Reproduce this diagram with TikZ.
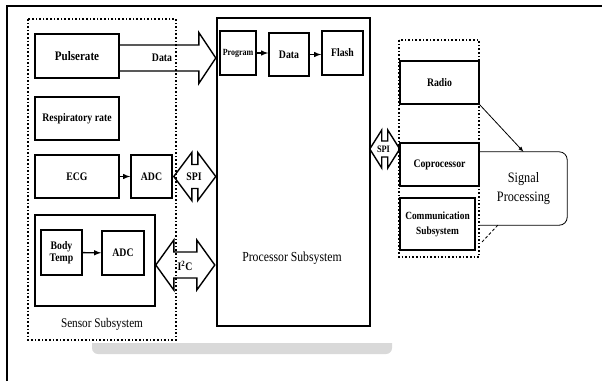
\documentclass[tikz,border=0pt]{standalone}
\usepackage{fontspec}
\setmainfont{Liberation Serif}[FakeStretch=0.85]
\usetikzlibrary{calc}
\usetikzlibrary{positioning}
\usetikzlibrary{arrows}

\begin{document}
\begin{tikzpicture}[x=1pt,y=1pt,yscale=-1,xscale=1,
    blk/.style={draw,line width=1.6pt,inner sep=1pt,align=center,font=\fontsize{11.5}{12.5}\selectfont\bfseries},
    fat/.style={draw,line width=1.4pt,line join=miter},
    thin/.style={-latex,line width=1.4pt},
    group/.style={dotted,line width=1.6pt}]
            \useasboundingbox (0,0) rectangle (602,381);

            %Shape: Shadow
            \begin{scope}
                \clip (0,343) rectangle (602,381);
                \fill[black!15,rounded corners=6pt] (92,330) rectangle (392,354);
            \end{scope}
            %Straight Lines: frame
            \draw [line width=1.5pt] (7,381) -- (7,6) -- (602,6) ;
            %Shape: Dotted groups
            \draw [group] (28,19) rectangle (176,340) ;
            \draw [group] (399,40) rectangle (479,257) ;

            %Shape: Rectangle - sensors
            \node [blk,minimum width=84pt,minimum height=44pt,font=\fontsize{13}{14}\selectfont\bfseries] (pulse) at (77,56) {Pulserate};
            \node [blk,minimum width=84pt,minimum height=43pt] (resp) at (77,118.5) {Respiratory rate};
            \node [blk,minimum width=84pt,minimum height=43pt] (ecg) at (77,176.5) {ECG};
            \node [blk,minimum width=41pt,minimum height=43pt] (adca) at (151.5,176.5) {ADC};
            \node [blk,minimum width=120pt,minimum height=91pt] (sens) at (95,260.5) {};
            \node [blk,minimum width=41pt,minimum height=45pt] (body) at (61.5,252.5) {Body\\Temp};
            \node [blk,minimum width=42pt,minimum height=44pt] (adcb) at (123,253) {ADC};
            % Text Node
            \node [font=\fontsize{13.2}{15}\selectfont] (senslbl) at (102,324) {Sensor Subsystem};

            %Shape: Rectangle - processor
            \node [blk,line width=1.5pt,minimum width=153pt,minimum height=308pt] (proc) at (293.5,172) {};
            \node [blk,minimum width=36pt,minimum height=44pt,font=\fontsize{9.4}{10}\selectfont\bfseries] (prog) at (238,53) {Program};
            \node [blk,minimum width=40pt,minimum height=43pt] (mem) at (289,54.5) {Data};
            \node [blk,minimum width=41pt,minimum height=44pt] (flash) at (342.5,53) {Flash};
            % Text Node
            \node [font=\fontsize{13.8}{16}\selectfont] (proclbl) at (292,258) {Processor Subsystem};

            %Shape: Rectangle - radio side
            \node [blk,minimum width=79pt,minimum height=43pt] (radio) at (439.5,82.5) {Radio};
            \node [blk,minimum width=79pt,minimum height=43pt] (copro) at (439.5,164.5) {Coprocessor};
            \node [blk,minimum width=75pt,minimum height=52pt,font=\fontsize{11}{15}\selectfont\bfseries] (comm) at (437.5,224) {Communication\\Subsystem};

            %Shape: Callout
            \node [minimum width=87pt,minimum height=73pt,align=center,font=\fontsize{14.4}{19}\selectfont] (signal) at (523.5,188.5) {Signal\\Processing};
            \draw [line width=0.8pt,rounded corners=8pt] (signal.north west) -- (signal.north east) -- (signal.south east) -- (signal.south west) ;
            \draw [densely dashed,line width=0.8pt] ($(signal.south west)+(18,0)$) -- ++(-16,17) ;
            \draw [-latex,line width=0.8pt] (radio.south east) -- (signal.north) ;

            %Straight Lines: small arrows
            \draw [thin] (ecg) -- (adca) ;
            \draw [thin] (body) -- (adcb) ;
            \draw [thin] (prog.east) -- (mem.west |- prog.east) ;
            \draw [thin] (mem.east) -- (flash.west |- mem.east) ;

            %Shape: Block arrows
            \draw [fat] ($(pulse.east)+(0,-11)$) -- ++(79,0) -- ++(0,-12.5) -- ++(17,25.5) -- ++(-17,25.5) -- ++(0,-12.5) -- ++(-79,0) ;
            \draw [fat] ($(adca.east)+(1,0)$) -- ++(18,-24) -- ++(0,12) -- ++(6,0) -- ++(0,-12) -- ++(18,24) -- ++(-18,24) -- ++(0,-12) -- ++(-6,0) -- ++(0,12) -- cycle ;
            \draw [fat] ($(sens.east)+(0,4.5)$) -- ++(18,-25) -- ++(0,12) -- ++(23,0) -- ++(0,-12) -- ++(18,25) -- ++(-18,25) -- ++(0,-12) -- ++(-23,0) -- ++(0,12) -- cycle ;
            \draw [fat] ($(proc.east)+(-1,-23)$) -- ++(12,-19) -- ++(0,11) -- ++(6,0) -- ++(0,-11) -- ++(12,19) -- ++(-12,19) -- ++(0,-11) -- ++(-6,0) -- ++(0,11) -- cycle ;

            % Text Node
            \node [font=\fontsize{11.5}{12.5}\selectfont\bfseries] (datalbl) at (162,58) {Data};
            % Text Node
            \node [font=\fontsize{11.5}{12.5}\selectfont\bfseries] (spia) at (194,176.5) {SPI};
            % Text Node
            \node [font=\fontsize{11.5}{12.5}\selectfont\bfseries] (i2c) at (185,266) {I\textsuperscript{2}C};
            % Text Node
            \node [font=\fontsize{9.8}{11}\selectfont\bfseries] (spib) at (383.5,149) {SPI};

\end{tikzpicture}
\end{document}
